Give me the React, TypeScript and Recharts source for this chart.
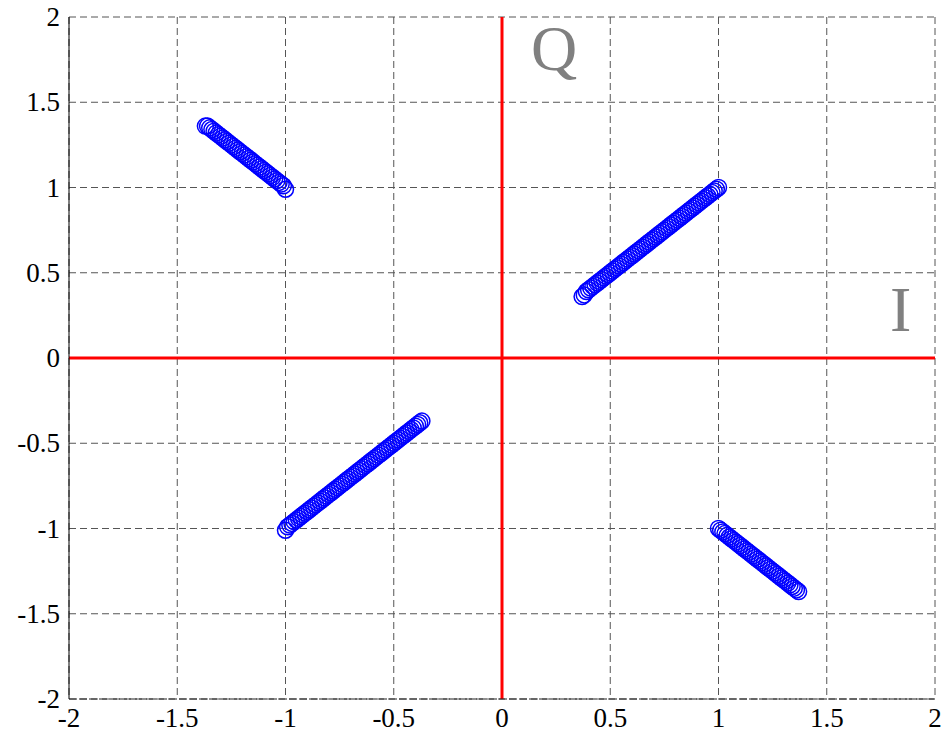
import {
  ScatterChart,
  Scatter,
  XAxis,
  YAxis,
  CartesianGrid,
  ReferenceLine,
} from "recharts";

// axis ticks
const ticks = [-2, -1.5, -1, -0.5, 0, 0.5, 1, 1.5, 2];

// first quadrant cluster (I, Q)
const q1I = [
  0.37, 0.38, 0.39, 0.4, 0.41, 0.42, 0.43, 0.44, 0.45, 0.46, 0.47, 0.48, 0.49, 0.5, 0.51, 0.52,
  0.53, 0.54, 0.55, 0.56, 0.57, 0.58, 0.59, 0.6, 0.61, 0.62, 0.63, 0.64, 0.65, 0.66, 0.67, 0.68,
  0.69, 0.7, 0.71, 0.72, 0.73, 0.74, 0.75, 0.76, 0.77, 0.78, 0.79, 0.8, 0.81, 0.82, 0.83, 0.84,
  0.85, 0.86, 0.87, 0.88, 0.89, 0.9, 0.91, 0.92, 0.93, 0.94, 0.95, 0.96, 0.97, 0.98, 0.99, 1.0,
];
const q1Q = [
  0.36, 0.37, 0.39, 0.4, 0.41, 0.42, 0.43, 0.44, 0.45, 0.46, 0.47, 0.48, 0.49, 0.5, 0.51, 0.52,
  0.53, 0.54, 0.55, 0.56, 0.57, 0.58, 0.59, 0.6, 0.61, 0.62, 0.63, 0.64, 0.65, 0.66, 0.67, 0.68,
  0.69, 0.7, 0.71, 0.72, 0.73, 0.74, 0.75, 0.76, 0.77, 0.78, 0.79, 0.8, 0.81, 0.82, 0.83, 0.84,
  0.85, 0.86, 0.87, 0.88, 0.89, 0.9, 0.91, 0.92, 0.93, 0.94, 0.95, 0.96, 0.97, 0.98, 0.99, 1.0,
];

// second quadrant cluster
const q2I = [
  -1.37, -1.36, -1.35, -1.34, -1.33, -1.32, -1.31, -1.3, -1.29, -1.28, -1.27, -1.26, -1.25,
  -1.24, -1.23, -1.22, -1.21, -1.2, -1.19, -1.18, -1.17, -1.16, -1.15, -1.14, -1.13, -1.12,
  -1.11, -1.1, -1.09, -1.08, -1.07, -1.06, -1.05, -1.04, -1.03, -1.02, -1.01, -1.0,
];
const q2Q = [
  1.36, 1.36, 1.35, 1.34, 1.33, 1.32, 1.31, 1.3, 1.29, 1.28, 1.27, 1.26, 1.25,
  1.24, 1.23, 1.22, 1.21, 1.2, 1.19, 1.18, 1.17, 1.16, 1.15, 1.14, 1.13, 1.12,
  1.11, 1.1, 1.09, 1.08, 1.07, 1.06, 1.05, 1.04, 1.03, 1.02, 1.01, 0.99,
];

// third quadrant cluster
const q3I = [
  -1.0, -0.99, -0.98, -0.97, -0.96, -0.95, -0.94, -0.93, -0.92, -0.91, -0.9, -0.89, -0.88,
  -0.87, -0.86, -0.85, -0.84, -0.83, -0.82, -0.81, -0.8, -0.79, -0.78, -0.77, -0.76, -0.75,
  -0.74, -0.73, -0.72, -0.71, -0.7, -0.69, -0.68, -0.67, -0.66, -0.65, -0.64, -0.63, -0.62,
  -0.61, -0.6, -0.59, -0.58, -0.57, -0.56, -0.55, -0.54, -0.53, -0.52, -0.51, -0.5, -0.49,
  -0.48, -0.47, -0.46, -0.45, -0.44, -0.43, -0.42, -0.41, -0.4, -0.39, -0.38, -0.37,
];
const q3Q = [
  -1.01, -0.99, -0.98, -0.97, -0.96, -0.95, -0.94, -0.93, -0.92, -0.91, -0.9, -0.89, -0.88,
  -0.87, -0.86, -0.85, -0.84, -0.83, -0.82, -0.81, -0.8, -0.79, -0.78, -0.77, -0.76, -0.75,
  -0.74, -0.73, -0.72, -0.71, -0.7, -0.69, -0.68, -0.67, -0.66, -0.65, -0.64, -0.63, -0.62,
  -0.61, -0.6, -0.59, -0.58, -0.57, -0.56, -0.55, -0.54, -0.53, -0.52, -0.51, -0.5, -0.49,
  -0.48, -0.47, -0.46, -0.45, -0.44, -0.43, -0.42, -0.41, -0.4, -0.39, -0.38, -0.37,
];

// fourth quadrant cluster
const q4I = [
  1.0, 1.01, 1.02, 1.03, 1.04, 1.05, 1.06, 1.07, 1.08, 1.09, 1.1, 1.11, 1.12, 1.13, 1.14,
  1.15, 1.16, 1.17, 1.18, 1.19, 1.2, 1.21, 1.22, 1.23, 1.24, 1.25, 1.26, 1.27, 1.28, 1.29,
  1.3, 1.31, 1.32, 1.33, 1.34, 1.35, 1.36, 1.37,
];
const q4Q = [
  -1.0, -1.01, -1.02, -1.03, -1.04, -1.05, -1.06, -1.07, -1.08, -1.09, -1.1, -1.11, -1.12,
  -1.13, -1.14, -1.15, -1.16, -1.17, -1.18, -1.19, -1.2, -1.21, -1.22, -1.23, -1.24, -1.25,
  -1.26, -1.27, -1.28, -1.29, -1.3, -1.31, -1.32, -1.33, -1.34, -1.35, -1.36, -1.37,
];

const zip = (xs: number[], ys: number[]) => xs.map((x, k) => ({ i: x, q: ys[k] }));

const clusters = [zip(q1I, q1Q), zip(q2I, q2Q), zip(q3I, q3Q), zip(q4I, q4Q)];

const tickFont = { fontFamily: "Liberation Serif", fontSize: 27 };

const Ring = (props: any) => (
  <circle
    cx={props.cx}
    cy={props.cy}
    r={8}
    fill="none"
    stroke="#0000ff"
    strokeWidth={1.5}
  />
);

const renderXTick = (props: any) => (
  <text
    x={props.x}
    y={props.y + 14}
    textAnchor="middle"
    fill="#000"
    style={tickFont}
  >
    {props.payload.value}
  </text>
);

const renderYTick = (props: any) => (
  <text
    x={props.x}
    y={props.y + 9}
    textAnchor="end"
    fill="#000"
    style={tickFont}
  >
    {props.payload.value}
  </text>
);

export default function App() {
  return (
    <div style={{ position: "absolute", left: 0, top: 0 }}>
      <ScatterChart
        width={945}
        height={735}
        margin={{ top: 17, right: 10, bottom: 0, left: 0 }}
      >
        <CartesianGrid stroke="#555" strokeDasharray="7 4" />
        <XAxis
          type="number"
          dataKey="i"
          domain={[-2, 2]}
          ticks={ticks}
          height={36}
          tickSize={0}
          tickMargin={14}
          axisLine={{ stroke: "#222", strokeDasharray: "8 2" }}
          tick={renderXTick}
        />
        <YAxis
          type="number"
          dataKey="q"
          domain={[-2, 2]}
          ticks={ticks}
          width={69}
          tickSize={0}
          tickMargin={9}
          axisLine={{ stroke: "#000" }}
          tick={renderYTick}
        />
        <ReferenceLine x={0} stroke="#ff0000" strokeWidth={3} />
        <ReferenceLine y={0} stroke="#ff0000" strokeWidth={3} />
        {clusters.map((pts, k) => (
          <Scatter
            key={k}
            data={pts}
            shape={Ring}
            isAnimationActive={false}
          />
        ))}
      </ScatterChart>
      <div
        style={{
          position: "absolute",
          left: 531,
          top: 17,
          fontFamily: "Liberation Serif",
          fontSize: 64,
          lineHeight: 1,
          color: "#808080",
        }}
      >
        Q
      </div>
      <div
        style={{
          position: "absolute",
          left: 890,
          top: 278,
          fontFamily: "Liberation Serif",
          fontSize: 64,
          lineHeight: 1,
          color: "#808080",
        }}
      >
        I
      </div>
    </div>
  );
}
